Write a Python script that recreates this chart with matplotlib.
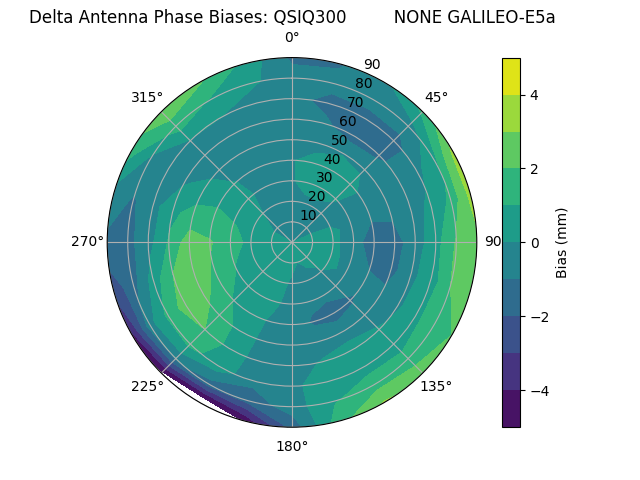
import numpy as np
import matplotlib
matplotlib.use("Agg")
import matplotlib.pyplot as plt

title = "Delta Antenna Phase Biases: QSIQ300         NONE GALILEO-E5a"
zenith = [0, 10, 20, 30, 40, 50, 60, 70, 80, 90]
azimuth = list(range(0, 375, 15))
az000 = [0.0, -0.3, -0.4, -0.1, -0.1, -0.4, -0.6, -0.7, -0.6, -1.2]
az015 = [0.0, -0.2, -0.3, 0.4, 0.5, -0.5, -0.8, -1.3, -0.7, -1.1]
az030 = [0.0, -0.2, -0.3, 0.5, 0.7, -0.1, -1.5, -1.5, -0.5, -0.3]
az045 = [0.0, -0.2, -0.4, 0.1, 0.6, -0.3, -1.2, -1.4, -0.5, 1.2]
az060 = [0.0, -0.2, -0.4, -0.5, -0.6, -0.6, -0.5, -0.3, 0.7, 3.2]
az075 = [0.0, 0.3, 0.3, -0.5, -1.0, -0.9, -0.4, 0.2, 1.2, 3.3]
az090 = [0.0, 0.4, 0.3, -0.7, -1.4, -1.4, -0.5, 0.6, 2.1, 2.8]
az105 = [0.0, 0.5, 0.4, -0.6, -1.1, -1.4, -0.2, 0.4, 2.0, 2.6]
az120 = [0.0, 0.4, 0.4, -0.4, -0.8, -0.8, -0.2, 0.7, 1.7, 2.0]
az135 = [0.0, 0.3, -0.1, -0.7, -1.1, -0.6, 0.1, 0.6, 1.3, 2.7]
az150 = [0.0, 0.2, -0.3, -0.8, -1.4, -0.5, 0.4, 0.6, 1.5, 3.1]
az165 = [0.0, 0.0, -0.2, -0.8, -1.1, -0.6, 0.1, 0.5, 0.9, 1.6]
az180 = [0.0, 0.3, -0.2, -0.5, -0.6, -0.5, -0.4, -0.2, -0.5, -1.7]
az195 = [0.0, 0.3, 0.3, 0.2, -0.2, -0.4, -0.5, -0.7, -1.6, -4.9]
az210 = [0.0, 0.4, 0.6, 0.7, 0.6, 0.7, 0.6, 0.5, -1.5, -6.5]
az225 = [0.0, 0.4, 0.6, 0.9, 0.95, 1.5, 2.0, 1.3, -0.8, -5.4]
az240 = [0.0, 0.4, 0.5, 0.9, 1.4, 2.4, 2.5, 1.2, -0.4, -4.3]
az255 = [0.0, 0.5, 0.7, 1.1, 1.9, 2.8, 2.0, 0.4, -1.4, -2.6]
az270 = [0.0, 0.5, 0.8, 1.3, 2.1, 2.6, 1.1, -0.4, -1.3, -1.2]
az285 = [0.0, 0.3, 0.7, 1.1, 1.4, 1.3, 0.8, -0.4, -1.1, -0.5]
az300 = [0.0, 0.0, 0.4, 0.7, 0.8, 0.6, -0.2, -0.6, -0.3, 1.5]
az315 = [0.0, -0.2, 0.0, 0.3, 0.1, -0.5, -0.7, -0.1, 1.5, 2.7]
az330 = [0.0, -0.3, -0.3, -0.4, -0.5, -0.6, -0.6, 0.0, 0.9, 2.1]
az345 = [0.0, -0.3, -0.4, -0.4, -0.5, -0.6, -0.6, -0.5, 0.2, 0.7]
az360 = az000
bias = np.array([az000, az015, az030, az045, az060, az075, az090, az105, az120, az135,
                 az150, az165, az180, az195, az210, az225, az240, az255, az270, az285,
                 az300, az315, az330, az345, az360])
levels = np.arange(-5, 6, 1)
cbar_ticks = [-4, -2, 0, 2, 4]

# repeat the rim values just outside the axes so straight polygon edges
# between azimuths do not leave gaps against the circular frame
rim = bias[:, -1:]
bias_ext = np.hstack([bias, rim])
zenith_ext = zenith + [95]

fig = plt.figure(figsize=(6.4, 4.8), dpi=100)
ax = fig.add_subplot(111, projection="polar")
ax.set_theta_zero_location("N")
ax.set_theta_direction(-1)
T, R = np.meshgrid(np.radians(azimuth), zenith_ext, indexing="ij")
cs = ax.contourf(T, R, bias_ext, levels=levels, cmap="viridis")
ax.set_rlim(0, 90)
ax.set_rticks(range(10, 100, 10))
ax.grid(True)
ax.set_title(title)
cb = fig.colorbar(cs, ax=ax)
cb.set_ticks(cbar_ticks)
cb.set_label("Bias (mm)")
fig.savefig("out.png", dpi=100)
